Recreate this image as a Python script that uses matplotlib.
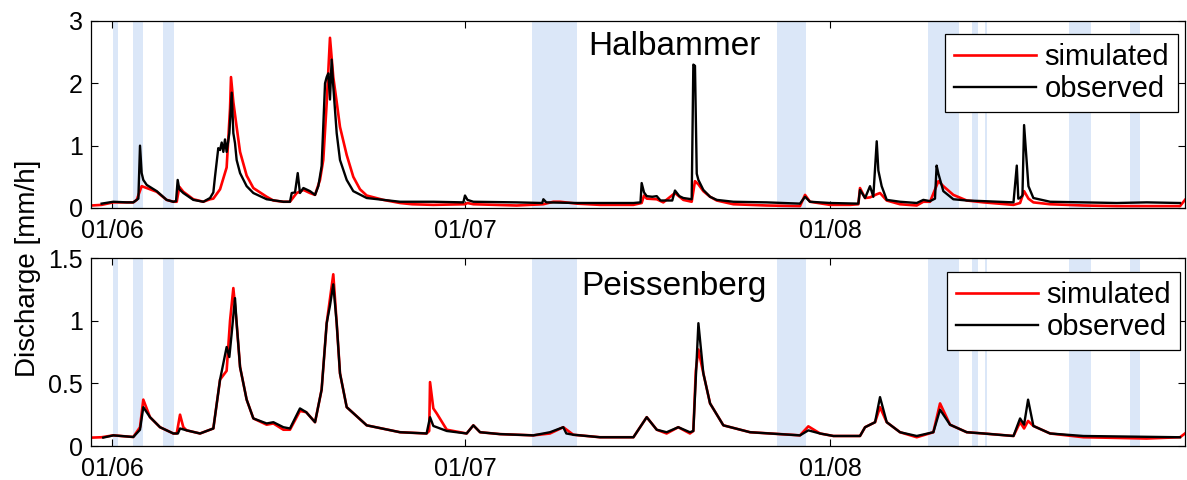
import numpy as np
import matplotlib
matplotlib.use("Agg")
import matplotlib.pyplot as plt
import matplotlib.dates as mdates
from datetime import datetime

plt.rcParams['font.family'] = ['Liberation Sans', 'DejaVu Sans']

# time axis: days since 01/06
START = mdates.date2num(datetime(2010, 6, 1))
x_range = [-1.78, 91.16]

# shaded periods (days since 01/06)
band_start = [0.08, 1.78, 4.33, 35.7, 56.5, 69.3, 73.1, 74.2, 81.3, 86.5]
band_end = [0.51, 2.63, 5.27, 39.5, 59.0, 72.0, 73.6, 74.3, 83.2, 87.3]

# Halbammer, simulated
halb_sim_t = [-1.73, -0.88, 0.11, 1.25, 1.81, 2.10, 2.52, 2.95, 3.80, 4.64, 5.21, 5.50, 5.72, 6.06,
              6.91, 7.76, 8.33, 8.61, 9.18, 9.74, 10.03, 10.11, 10.31, 10.59, 10.88, 11.44, 12.01,
              13.14, 13.71, 14.56, 15.12, 15.69, 16.26, 16.82, 17.25, 17.67, 17.95, 18.24, 18.52,
              18.80, 19.09, 19.37, 19.94, 20.50, 21.07, 21.64, 23.05, 24.47,
              25.5, 27.3, 29.99, 30.2, 30.7, 34.38, 36.65, 37.5, 38.07, 39.48, 41.47, 44.3, 45.0,
              45.2, 45.43, 46.28, 46.84, 47.83, 48.54, 49.25, 49.53, 49.82, 50.24, 50.81, 51.38,
              52.79, 55.62, 58.45,
              58.88, 59.30, 61.0, 62.7, 63.41, 63.55, 63.98, 64.40, 64.97, 65.25, 65.82, 66.95,
              68.37, 68.93, 69.50, 70.21, 70.63, 71.48, 72.62, 74.04, 76.59, 77.15, 77.49, 77.86,
              78.28, 79.70, 82.53, 85.36, 87.91, 90.74, 91.16]
halb_sim_q = [0.04, 0.05, 0.09, 0.09, 0.09, 0.13, 0.35, 0.32, 0.26, 0.13, 0.10, 0.10, 0.34, 0.26,
              0.14, 0.10, 0.14, 0.15, 0.30, 0.65, 1.60, 2.10, 1.70, 1.30, 0.90, 0.52, 0.32,
              0.18, 0.12, 0.10, 0.10, 0.24, 0.29, 0.24, 0.21, 0.45, 0.77, 1.68, 2.73,
              2.10, 1.70, 1.30, 0.85, 0.50, 0.30, 0.20, 0.13, 0.08,
              0.06, 0.05, 0.06, 0.08, 0.06, 0.04, 0.06, 0.10, 0.10, 0.07, 0.05, 0.05, 0.08,
              0.20, 0.15, 0.14, 0.09, 0.24, 0.13, 0.10, 0.43, 0.38, 0.27, 0.18, 0.12,
              0.06, 0.04, 0.03,
              0.21, 0.10, 0.05, 0.05, 0.06, 0.32, 0.16, 0.17, 0.22, 0.24, 0.12, 0.06,
              0.04, 0.10, 0.10, 0.43, 0.35, 0.21, 0.12, 0.09, 0.05, 0.08, 0.27, 0.15,
              0.09, 0.06, 0.04, 0.03, 0.03, 0.03, 0.13]

# Halbammer, observed
halb_obs_t = [-0.88, 0.11, 1.25, 1.81, 2.24, 2.38, 2.52, 2.66, 2.95, 3.80, 4.64, 5.21, 5.44, 5.58,
              5.72, 6.06, 6.91, 7.76, 8.33, 8.61, 8.75, 9.03, 9.18, 9.32, 9.46, 9.60, 9.74, 9.97,
              10.17, 10.31, 10.45, 10.59, 10.88, 11.44, 12.01, 13.14, 14.56, 15.12, 15.27, 15.55,
              15.78, 15.97, 16.26, 16.82, 17.25, 17.53, 17.81, 17.95, 18.10, 18.24, 18.38, 18.52,
              18.66, 18.80, 19.09, 19.37, 19.94, 20.50, 21.64, 23.05, 24.47,
              27.3, 29.85, 29.99, 30.2, 30.7, 34.38, 36.55, 36.65, 36.9, 39.48, 44.3, 44.9, 45.0,
              45.2, 45.43, 45.9, 46.28, 46.6, 47.6, 47.83, 48.2, 48.54, 49.25, 49.39, 49.53, 49.68,
              49.82, 50.24, 50.81, 51.38, 52.79, 55.62, 58.45,
              58.88, 59.30, 61.0, 63.41, 63.55, 63.98, 64.40, 64.68, 64.97, 65.11, 65.39, 65.82,
              66.95, 68.37, 68.93, 69.50, 69.92, 70.06, 70.21, 70.63, 71.48, 72.62, 74.04, 76.59,
              76.87, 77.0, 77.15, 77.35, 77.49, 77.65, 77.86, 78.28, 79.70, 82.53, 85.36, 87.91,
              90.74]
halb_obs_q = [0.07, 0.10, 0.09, 0.09, 0.15, 1.00, 0.56, 0.45, 0.37, 0.27, 0.13, 0.10, 0.11, 0.45,
              0.30, 0.24, 0.13, 0.10, 0.16, 0.25, 0.50, 0.96, 0.93, 1.05, 0.90, 1.10, 0.90, 1.20,
              1.85, 1.20, 1.04, 0.77, 0.56, 0.35, 0.24, 0.14, 0.10, 0.10, 0.24, 0.25,
              0.56, 0.24, 0.32, 0.27, 0.21, 0.35, 0.67, 1.30, 2.00, 2.10, 2.16, 1.74,
              2.38, 1.95, 1.20, 0.77, 0.45, 0.27, 0.16, 0.13, 0.10,
              0.10, 0.09, 0.20, 0.13, 0.10, 0.09, 0.08, 0.14, 0.09, 0.08, 0.08, 0.09, 0.40,
              0.25, 0.19, 0.18, 0.19, 0.12, 0.12, 0.28, 0.19, 0.16, 0.14, 2.30, 2.28, 0.55,
              0.45, 0.29, 0.18, 0.13, 0.10, 0.09, 0.07,
              0.18, 0.10, 0.08, 0.07, 0.29, 0.16, 0.35, 0.18, 1.07, 0.60, 0.35, 0.13,
              0.10, 0.08, 0.13, 0.11, 0.15, 0.68, 0.55, 0.27, 0.14, 0.12, 0.11, 0.09,
              0.68, 0.15, 0.16, 0.20, 1.33, 0.90, 0.35, 0.16, 0.10, 0.09, 0.08, 0.09,
              0.08]

# Peissenberg, simulated
peis_sim_t = [-1.73, -0.88, 0.11, 1.81, 2.38, 2.66, 3.23, 4.08, 5.21, 5.50, 5.78, 6.06, 6.34, 7.48,
              8.61, 9.18, 9.74, 10.03, 10.31, 10.59, 10.88, 11.44, 12.01, 13.14, 13.71, 14.56,
              15.12, 15.97, 16.5, 17.25, 17.81, 18.24, 18.80, 19.09, 19.37, 19.94, 21.64, 24.47,
              26.73, 26.95, 27.02, 27.30, 27.59, 28.44, 30.13, 30.70, 31.27, 32.96, 35.79, 37.21,
              38.34, 39.19, 41.47, 44.30, 45.43, 46.28, 47.12, 48.11, 49.10, 49.39, 49.6, 49.82,
              50.24, 50.81, 51.94, 54.21, 58.45,
              59.16, 60.15, 61.29, 63.55, 63.98, 64.83, 65.25, 65.82, 66.95, 68.37, 69.78, 70.35,
              71.20, 72.62, 74.04, 76.59, 77.15, 77.49, 77.83, 78.28, 79.70, 82.53, 87.9, 90.74,
              91.16]
peis_sim_q = [0.067, 0.07, 0.085, 0.072, 0.15, 0.37, 0.23, 0.15, 0.10, 0.10, 0.25, 0.15, 0.125, 0.10,
              0.14, 0.53, 0.60, 1.00, 1.26, 0.98, 0.63, 0.37, 0.22, 0.17, 0.18, 0.13,
              0.13, 0.28, 0.27, 0.19, 0.45, 0.98, 1.37, 0.98, 0.58, 0.31, 0.165, 0.11,
              0.10, 0.12, 0.51, 0.30, 0.26, 0.13, 0.10, 0.165, 0.11, 0.095, 0.085, 0.10,
              0.15, 0.09, 0.07, 0.07, 0.23, 0.13, 0.10, 0.15, 0.10, 0.12, 0.60, 0.77,
              0.58, 0.34, 0.165, 0.11, 0.085,
              0.157, 0.10, 0.08, 0.08, 0.15, 0.19, 0.31, 0.19, 0.11, 0.07, 0.11, 0.34,
              0.17, 0.11, 0.10, 0.08, 0.19, 0.14, 0.20, 0.16, 0.10, 0.07, 0.06, 0.07,
              0.10]

# Peissenberg, observed
peis_obs_t = [-0.74, 0.11, 1.81, 2.38, 2.66, 3.23, 4.08, 5.21, 5.60, 5.78, 6.34, 7.48, 8.61, 9.18,
              9.74, 9.97, 10.17, 10.45, 10.59, 10.88, 11.44, 12.01, 13.14, 13.71, 14.56, 15.12,
              15.97, 16.5, 17.25, 17.81, 18.24, 18.52, 18.80, 19.09, 19.37, 19.94, 21.64, 24.47,
              26.73, 27.02, 27.30, 27.59, 28.44, 30.13, 30.70, 31.27, 32.96, 35.79, 37.21, 38.34,
              38.6, 39.19, 41.47, 44.30, 45.43, 46.28, 47.12, 48.11, 49.10, 49.39, 49.82, 50.24,
              50.81, 51.94, 54.21, 58.45,
              59.16, 60.15, 61.29, 63.55, 63.98, 64.83, 65.25, 65.82, 66.95, 68.37, 69.78, 70.35,
              71.20, 72.62, 74.04, 76.59, 77.15, 77.49, 77.83, 78.28, 79.70, 82.53, 90.74]
peis_obs_q = [0.067, 0.085, 0.072, 0.13, 0.31, 0.23, 0.15, 0.10, 0.10, 0.14, 0.125, 0.10, 0.14, 0.53,
              0.79, 0.71, 0.90, 1.18, 0.98, 0.63, 0.37, 0.22, 0.18, 0.19, 0.15, 0.14,
              0.30, 0.27, 0.19, 0.45, 0.98, 1.12, 1.29, 0.98, 0.58, 0.31, 0.165, 0.11,
              0.10, 0.23, 0.16, 0.15, 0.12, 0.10, 0.165, 0.11, 0.095, 0.085, 0.11, 0.15,
              0.10, 0.09, 0.07, 0.07, 0.23, 0.13, 0.11, 0.15, 0.11, 0.12, 0.98, 0.58,
              0.34, 0.165, 0.11, 0.085,
              0.125, 0.10, 0.08, 0.08, 0.15, 0.19, 0.39, 0.19, 0.11, 0.08, 0.11, 0.29,
              0.17, 0.11, 0.10, 0.08, 0.22, 0.17, 0.37, 0.16, 0.10, 0.08, 0.07]

panels = [
    ("Halbammer", halb_sim_t, halb_sim_q, halb_obs_t, halb_obs_q, [0, 3], [0, 1, 2, 3], ["0", "1", "2", "3"]),
    ("Peissenberg", peis_sim_t, peis_sim_q, peis_obs_t, peis_obs_q, [0, 1.5], [0, 0.5, 1, 1.5], ["0", "0.5", "1", "1.5"]),
]

fig = plt.figure(figsize=(11.87, 4.80), dpi=100)
ax_pos = [[0.0767, 0.5667, 0.9216, 0.3896], [0.0767, 0.0708, 0.9216, 0.3917]]
title_y = [0.818, 0.803]
legend_anchor = [(0.9936, 0.930), (0.9954, 0.9255)]

for i, (name, st, sq, ot, oq, ylim, yt, ytl) in enumerate(panels):
    ax = fig.add_axes(ax_pos[i])
    for b0, b1 in zip(band_start, band_end):
        ax.axvspan(START + b0, START + b1, color='#dbe7f8', lw=0, zorder=0)
    ax.plot(START + np.array(st), sq, color='red', lw=1.9, label='simulated', zorder=2)
    ax.plot(START + np.array(ot), oq, color='black', lw=1.7, label='observed', zorder=3)
    ax.set_xlim(START + x_range[0], START + x_range[1])
    ax.set_ylim(ylim)
    ax.set_yticks(yt)
    ax.set_yticklabels(ytl)
    ax.xaxis.set_major_locator(mdates.MonthLocator())
    ax.xaxis.set_major_formatter(mdates.DateFormatter('%d/%m'))
    ax.tick_params(direction='in', length=5, width=0.8, top=True, right=True, labelsize=18)
    ax.tick_params(axis='x', pad=8)
    ax.tick_params(axis='y', pad=6)
    for sp in ax.spines.values():
        sp.set_linewidth(0.9)
    ax.text(0.533, title_y[i], name, transform=ax.transAxes, ha='center', va='baseline', fontsize=24)
    leg = ax.legend(loc='upper right', bbox_to_anchor=legend_anchor[i], borderaxespad=0,
                    fontsize=21, fancybox=False, framealpha=1, edgecolor='black',
                    handlelength=2.8, handletextpad=0.3, labelspacing=0.15, borderpad=0.3)
    leg.get_frame().set_linewidth(0.9)

fig.text(0.024, 0.44, 'Discharge [mm/h]', rotation=90, ha='center', va='center', fontsize=20)

fig.savefig('out.png', dpi=100)
